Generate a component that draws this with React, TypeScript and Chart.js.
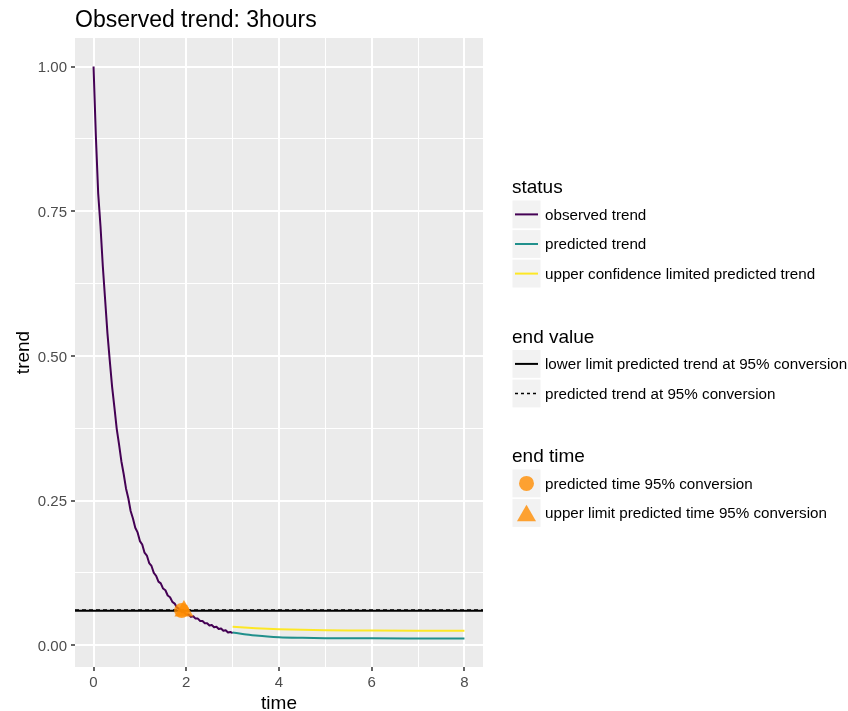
import React, { useEffect, useRef } from 'react';
import { Chart, registerables } from 'chart.js';

Chart.register(...registerables);

// ---- data ----
const obsTime = [
  0, 0.05, 0.1, 0.15, 0.2, 0.25, 0.3, 0.35, 0.4, 0.45, 0.5, 0.55, 0.6, 0.65, 0.7, 0.75, 0.8, 0.85, 0.9, 0.95,
  1.0, 1.05, 1.1, 1.15, 1.2, 1.25, 1.3, 1.35, 1.4, 1.45, 1.5, 1.55, 1.6, 1.65, 1.7, 1.75, 1.8, 1.85, 1.9, 1.95,
  2.0, 2.05, 2.1, 2.15, 2.2, 2.25, 2.3, 2.35, 2.4, 2.45, 2.5, 2.55, 2.6, 2.65, 2.7, 2.75, 2.8, 2.85, 2.9, 2.95, 3.0,
];
const obsTrend = [
  1.0, 0.88, 0.781, 0.724, 0.655, 0.597, 0.539, 0.492, 0.447, 0.411, 0.374, 0.347, 0.318, 0.296, 0.271, 0.254, 0.232, 0.219, 0.203, 0.195,
  0.18, 0.174, 0.16, 0.155, 0.142, 0.137, 0.125, 0.12, 0.11, 0.107, 0.098, 0.095, 0.086, 0.083, 0.075, 0.072, 0.065, 0.063, 0.057, 0.057,
  0.053, 0.053, 0.049, 0.05, 0.046, 0.046, 0.042, 0.042, 0.038, 0.038, 0.034, 0.035, 0.031, 0.032, 0.028, 0.029, 0.025, 0.026, 0.022, 0.023, 0.021,
];
const predTime = [3, 3.25, 3.5, 3.75, 4, 4.5, 5, 5.5, 6, 7, 8];
const predTrend = [0.022, 0.019, 0.0168, 0.015, 0.0138, 0.0128, 0.0122, 0.012, 0.0119, 0.0118, 0.0118];
const upperTrend = [0.032, 0.0305, 0.0293, 0.0283, 0.0276, 0.0266, 0.026, 0.0256, 0.0253, 0.025, 0.0249];

const endValueLower = 0.0598;
const endValuePred = 0.0608;
const endTimePredT = 1.9;
const endTimePredV = 0.06;
const endTimeUpperT = 1.95;
const endTimeUpperV = 0.059;

const xMajorTicks = [0, 2, 4, 6, 8];
const xMinorTicks = [1, 3, 5, 7];
const yMajorTicks = [0, 0.25, 0.5, 0.75, 1.0];
const yMinorTicks = [0.125, 0.375, 0.625, 0.875];
const xRange = [-0.4, 8.4];
const yRange = [-0.0376, 1.0494];

const titleText = 'Observed trend: 3hours';
const xTitle = 'time';
const yTitle = 'trend';

const statusLabels = ['observed trend', 'predicted trend', 'upper confidence limited predicted trend'];
const statusColors = ['#440154', '#21908C', '#FDE725'];
const endValueLabels = ['lower limit predicted trend at 95% conversion', 'predicted trend at 95% conversion'];
const endTimeLabels = ['predicted time 95% conversion', 'upper limit predicted time 95% conversion'];
const orange = 'rgba(255,140,0,0.8)';

const FONT = '"Liberation Sans", Arial, Helvetica, sans-serif';

const zip = (xs: number[], ys: number[]) => xs.map((x, i) => ({ x, y: ys[i] }));

const decorPlugin = {
  id: 'decor',
  beforeDraw(chart: any) {
    const { ctx, chartArea: a } = chart;
    ctx.save();
    ctx.fillStyle = '#ffffff';
    ctx.fillRect(0, 0, chart.width, chart.height);
    ctx.fillStyle = '#EBEBEB';
    ctx.fillRect(a.left, a.top, a.right - a.left, a.bottom - a.top);
    ctx.restore();
  },
  afterDraw(chart: any) {
    const { ctx, chartArea: a } = chart;
    ctx.save();
    // title
    ctx.fillStyle = '#000';
    ctx.font = `23px ${FONT}`;
    ctx.textAlign = 'left';
    ctx.textBaseline = 'alphabetic';
    ctx.fillText(titleText, a.left, 27);
    // axis titles
    ctx.font = `19px ${FONT}`;
    ctx.textAlign = 'center';
    ctx.fillText(xTitle, (a.left + a.right) / 2, 709);
    ctx.save();
    ctx.translate(29, (a.top + a.bottom) / 2);
    ctx.rotate(-Math.PI / 2);
    ctx.fillText(yTitle, 0, 0);
    ctx.restore();

    // legend
    const keyX = 512.5;
    const keyW = 28;
    const rowH = 29.6;
    const textX = 545;
    const drawGroup = (title: string, titleBase: number, rowsTop: number, labels: string[], drawKey: (i: number, cx: number, cy: number) => void) => {
      ctx.fillStyle = '#000';
      ctx.font = `19px ${FONT}`;
      ctx.textAlign = 'left';
      ctx.textBaseline = 'alphabetic';
      ctx.fillText(title, 512, titleBase);
      labels.forEach((lab, i) => {
        const top = rowsTop + i * rowH;
        ctx.fillStyle = '#F2F2F2';
        ctx.fillRect(keyX, top, keyW, rowH - 1.8);
        const cx = keyX + keyW / 2;
        const cy = top + (rowH - 1.8) / 2;
        drawKey(i, cx, cy);
        ctx.fillStyle = '#000';
        ctx.font = `15.2px ${FONT}`;
        ctx.textAlign = 'left';
        ctx.textBaseline = 'middle';
        ctx.fillText(lab, textX, cy + 1);
      });
    };
    drawGroup('status', 193, 200.5, statusLabels, (i, cx, cy) => {
      ctx.strokeStyle = statusColors[i];
      ctx.lineWidth = 2;
      ctx.setLineDash([]);
      ctx.beginPath();
      ctx.moveTo(cx - 11.5, cy);
      ctx.lineTo(cx + 11.5, cy);
      ctx.stroke();
    });
    drawGroup('end value', 343, 350, endValueLabels, (i, cx, cy) => {
      ctx.strokeStyle = '#000';
      ctx.lineWidth = i === 0 ? 2 : 1.5;
      ctx.setLineDash(i === 0 ? [] : [3, 3]);
      ctx.beginPath();
      ctx.moveTo(cx - 11.5, cy);
      ctx.lineTo(cx + 11.5, cy);
      ctx.stroke();
      ctx.setLineDash([]);
    });
    drawGroup('end time', 461.5, 469.5, endTimeLabels, (i, cx, cy) => {
      ctx.fillStyle = orange;
      ctx.beginPath();
      if (i === 0) {
        ctx.arc(cx, cy, 7.5, 0, Math.PI * 2);
      } else {
        const r = 11;
        const y0 = cy + r / 4;
        ctx.moveTo(cx, y0 - r);
        ctx.lineTo(cx + r * Math.sin((2 * Math.PI) / 3), y0 + r / 2);
        ctx.lineTo(cx - r * Math.sin((2 * Math.PI) / 3), y0 + r / 2);
        ctx.closePath();
      }
      ctx.fill();
    });
    ctx.restore();
  },
};

export default function App() {
  const ref = useRef<HTMLCanvasElement | null>(null);
  useEffect(() => {
    if (!ref.current) return;
    const isXMajor = (v: number) => xMajorTicks.includes(v);
    const isYMajor = (v: number) => yMajorTicks.some((t) => Math.abs(t - v) < 1e-9);
    const chart = new Chart(ref.current, {
      type: 'line',
      data: {
        datasets: [
          {
            label: 'predicted time 95% conversion',
            data: [{ x: endTimePredT, y: endTimePredV }],
            showLine: false,
            pointStyle: 'circle',
            pointRadius: 7.5,
            pointBackgroundColor: orange,
            pointBorderWidth: 0,
            order: 0,
          },
          {
            label: 'upper limit predicted time 95% conversion',
            data: [{ x: endTimeUpperT, y: endTimeUpperV }],
            showLine: false,
            pointStyle: 'triangle',
            pointRadius: 11,
            pointBackgroundColor: orange,
            pointBorderWidth: 0,
            order: 0,
          },
          {
            label: 'lower limit',
            data: [{ x: xRange[0], y: endValueLower }, { x: xRange[1], y: endValueLower }],
            borderColor: '#000',
            borderWidth: 2,
            pointRadius: 0,
            order: 1,
          },
          {
            label: 'predicted',
            data: [{ x: xRange[0], y: endValuePred }, { x: xRange[1], y: endValuePred }],
            borderColor: '#000',
            borderWidth: 1.5,
            borderDash: [4, 3],
            pointRadius: 0,
            order: 1,
          },
          {
            label: statusLabels[2],
            data: zip(predTime, upperTrend),
            borderColor: statusColors[2],
            borderWidth: 2,
            pointRadius: 0,
            cubicInterpolationMode: 'monotone',
            order: 2,
          },
          {
            label: statusLabels[1],
            data: zip(predTime, predTrend),
            borderColor: statusColors[1],
            borderWidth: 2,
            pointRadius: 0,
            cubicInterpolationMode: 'monotone',
            order: 2,
          },
          {
            label: statusLabels[0],
            data: zip(obsTime, obsTrend),
            borderColor: statusColors[0],
            borderWidth: 2,
            borderJoinStyle: 'round',
            pointRadius: 0,
            order: 2,
          },
        ],
      },
      options: {
        animation: false,
        responsive: false,
        maintainAspectRatio: false,
        layout: { padding: { top: 38, right: 365, left: 0, bottom: 0 } },
        plugins: {
          legend: { display: false },
          tooltip: { enabled: false },
          title: { display: false },
        },
        scales: {
          x: {
            type: 'linear',
            min: xRange[0],
            max: xRange[1],
            afterBuildTicks: (s: any) => {
              s.ticks = [...xMajorTicks, ...xMinorTicks].sort((p, q) => p - q).map((v) => ({ value: v }));
            },
            afterFit: (s: any) => {
              s.height = 44;
            },
            ticks: {
              autoSkip: false,
              maxRotation: 0,
              padding: 3,
              color: '#4D4D4D',
              font: { family: FONT, size: 15 },
              callback: (v: any) => (isXMajor(Number(v)) ? String(v) : ''),
            },
            grid: {
              color: '#FFFFFF',
              lineWidth: (c: any) => (c.tick && isXMajor(c.tick.value) ? 2 : 1),
              tickColor: (c: any) => (c.tick && isXMajor(c.tick.value) ? '#333333' : 'rgba(0,0,0,0)'),
              tickLength: 4,
              tickWidth: 1.5,
            },
            border: { display: false },
          },
          y: {
            type: 'linear',
            min: yRange[0],
            max: yRange[1],
            afterBuildTicks: (s: any) => {
              s.ticks = [...yMajorTicks, ...yMinorTicks].sort((p, q) => p - q).map((v) => ({ value: v }));
            },
            afterFit: (s: any) => {
              s.width = 75;
            },
            ticks: {
              autoSkip: false,
              padding: 4,
              labelOffset: 1.5,
              color: '#4D4D4D',
              font: { family: FONT, size: 15 },
              callback: (v: any) => (isYMajor(Number(v)) ? Number(v).toFixed(2) : ''),
            },
            grid: {
              color: '#FFFFFF',
              lineWidth: (c: any) => (c.tick && isYMajor(c.tick.value) ? 2 : 1),
              tickColor: (c: any) => (c.tick && isYMajor(c.tick.value) ? '#333333' : 'rgba(0,0,0,0)'),
              tickLength: 4,
              tickWidth: 1.5,
            },
            border: { display: false },
          },
        },
      } as any,
      plugins: [decorPlugin],
    });
    return () => chart.destroy();
  }, []);
  return (
    <div style={{ position: 'absolute', left: 0, top: 0, width: 848, height: 711, background: '#fff' }}>
      <canvas ref={ref} width={848} height={711} style={{ display: 'block', width: 848, height: 711 }} />
    </div>
  );
}
